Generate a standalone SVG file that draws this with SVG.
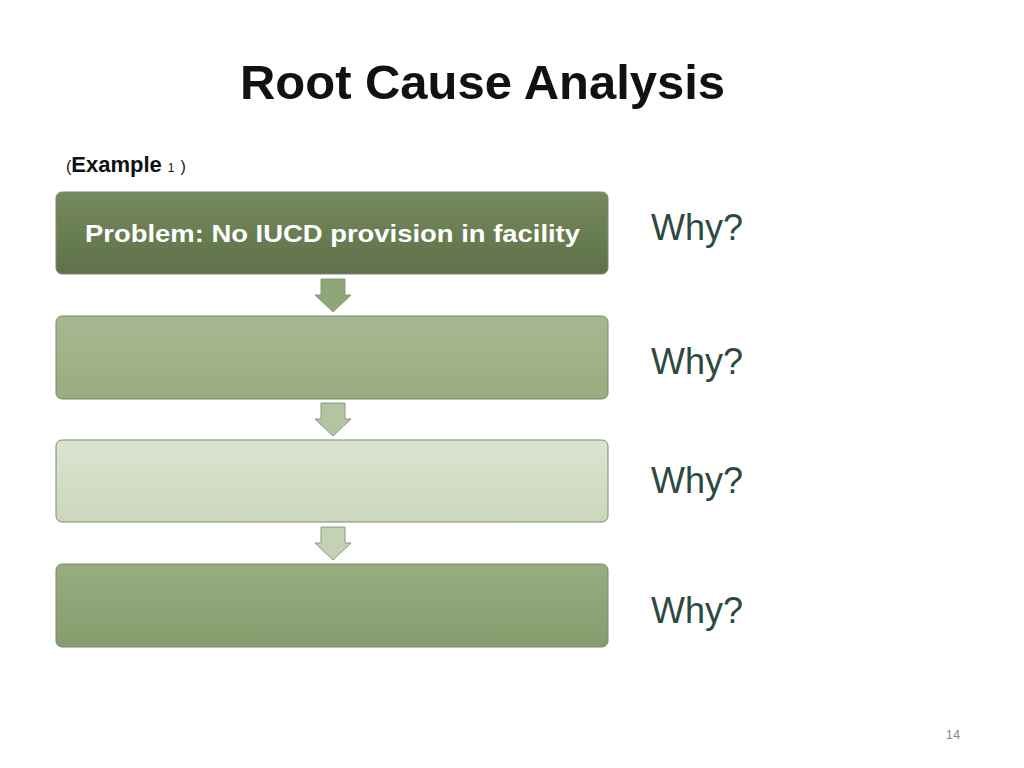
<svg xmlns="http://www.w3.org/2000/svg" width="1024" height="768" viewBox="0 0 1024 768">
<style>
.why{font-family:"Liberation Sans",sans-serif;font-size:36px;fill:#2d4a3e}
.box{stroke:#7a8a6a;stroke-width:1}
.arr{stroke:#8a9a7a;stroke-width:1}
</style>
<defs>
<linearGradient id="g1" x1="0" y1="0" x2="0" y2="1"><stop offset="0" stop-color="#758a5c"/><stop offset="1" stop-color="#5e7149"/></linearGradient>
<linearGradient id="g2" x1="0" y1="0" x2="0" y2="1"><stop offset="0" stop-color="#a6b890"/><stop offset="1" stop-color="#98ac80"/></linearGradient>
<linearGradient id="g3" x1="0" y1="0" x2="0" y2="1"><stop offset="0" stop-color="#dbe4d0"/><stop offset="1" stop-color="#cbd7bd"/></linearGradient>
<linearGradient id="g4" x1="0" y1="0" x2="0" y2="1"><stop offset="0" stop-color="#98ad80"/><stop offset="1" stop-color="#869c6d"/></linearGradient>
</defs>
<rect width="1024" height="768" fill="#fff"/>
<text x="240" y="99" textLength="485" lengthAdjust="spacingAndGlyphs" font-family="Liberation Sans,sans-serif" font-weight="bold" font-size="48" fill="#111">Root Cause Analysis</text>
<text x="66" y="172" font-family="Liberation Sans,sans-serif" font-size="22" fill="#111"><tspan font-size="16">(</tspan><tspan font-weight="bold">Example</tspan><tspan font-size="12" dx="6">1</tspan><tspan font-size="16" dx="6">)</tspan></text>
<g id="connectors">
<path class="arr" d="M321,279 H345 V295 H351 L333,312 L315,295 H321 Z" fill="#8fa477"/>
<path class="arr" d="M321,403 H345 V419 H351 L333,436 L315,419 H321 Z" fill="#b4c4a2"/>
<path class="arr" d="M321,527 H345 V543 H351 L333,560 L315,543 H321 Z" fill="#c4d2b3"/>
</g>
<g id="n1"><rect class="box" x="56" y="192" width="552" height="82" rx="6" fill="url(#g1)"/>
<text x="85" y="242" textLength="495" lengthAdjust="spacingAndGlyphs" font-family="Liberation Sans,sans-serif" font-weight="bold" font-size="24" fill="#fff">Problem: No IUCD provision in facility</text></g>
<g id="n2"><rect class="box" x="56" y="316" width="552" height="83" rx="6" fill="url(#g2)"/></g>
<g id="n3"><rect class="box" x="56" y="440" width="552" height="82" rx="6" fill="url(#g3)"/></g>
<g id="n4"><rect class="box" x="56" y="564" width="552" height="83" rx="6" fill="url(#g4)"/></g>
<text class="why" x="651" y="240">Why?</text>
<text class="why" x="651" y="374">Why?</text>
<text class="why" x="651" y="493">Why?</text>
<text class="why" x="651" y="623">Why?</text>
<text x="953" y="739" text-anchor="middle" font-family="Liberation Sans,sans-serif" font-size="13" fill="#888">14</text>
</svg>
